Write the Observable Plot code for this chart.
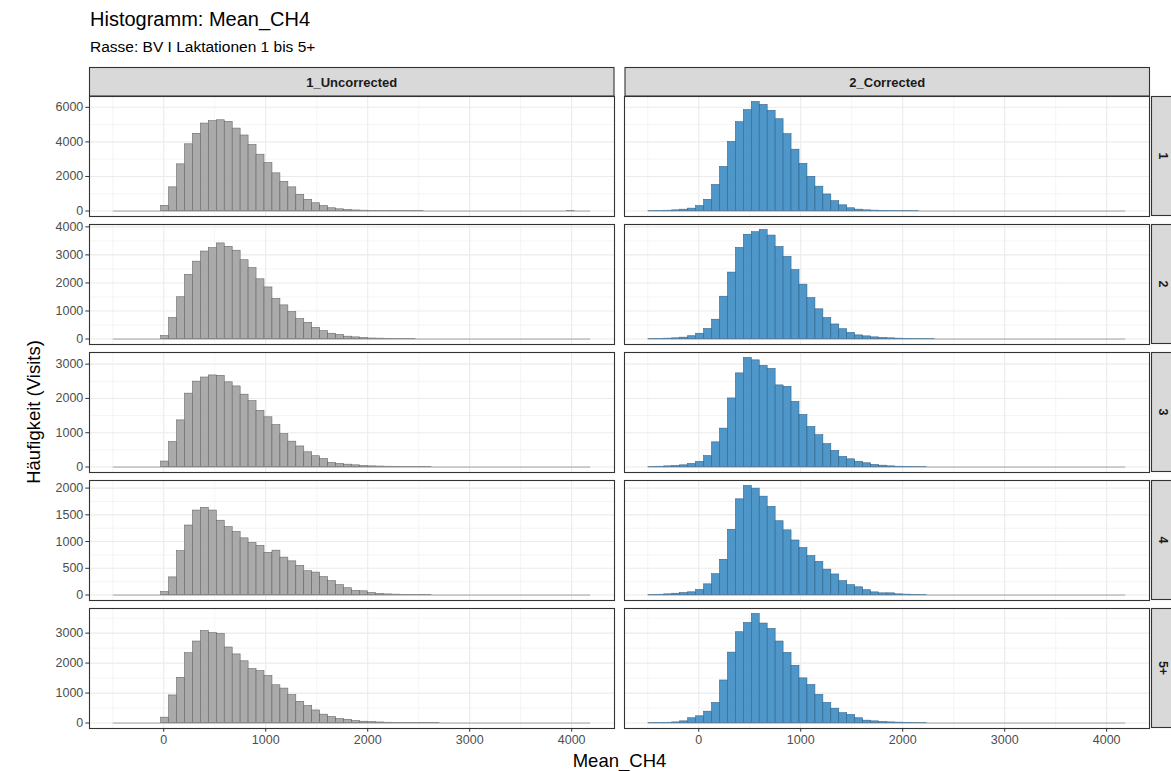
<!DOCTYPE html>
<html><head><meta charset="utf-8">
<script src="https://cdn.jsdelivr.net/npm/d3@7"></script>
<script src="https://cdn.jsdelivr.net/npm/@observablehq/plot@0.6"></script>
<style>
body{margin:0;background:#fff;}
#root{position:relative;width:1171px;height:771px;overflow:hidden;background:#fff;font-family:"Liberation Sans",Arial,sans-serif;}
#root svg{position:absolute;left:0;}
</style></head><body><div id="root"></div>
<script>
// ---- data ----
const binStart = -494, binWidth = 78, binCount = 60;
const columns = ["1_Uncorrected", "2_Corrected"];
const lactations = ["1", "2", "3", "4", "5+"];
// counts per bin (bin k covers binStart + k*binWidth ... + binWidth); missing = 0
const uncorr1 = [0,0,0,0,0,0,300,1370,2700,3860,4470,5060,5200,5250,5160,4770,4370,3820,3260,2770,2180,1690,1370,940,650,450,290,160,100,60,35,22,15,10,6,4,8,2,1,0,0,0,0,0,0,0,0,0,0,0,0,0,0,0,0,0,0,3];
const corr1   = [3,10,20,40,80,140,290,650,1510,2550,4000,5140,5840,6310,6140,5800,5310,4450,3550,2730,1980,1410,960,570,330,160,80,40,25,15,10,6,4,2];
const uncorr2 = [0,0,0,0,0,0,110,750,1490,2290,2760,3120,3240,3410,3290,3150,2810,2530,2130,1840,1430,1200,960,710,580,400,280,190,145,85,60,35,20,15,10,5,3,2];
const corr2   = [5,10,15,25,50,100,190,360,690,1510,2370,3250,3720,3810,3890,3690,3280,2930,2460,1940,1460,1060,750,520,350,220,130,95,60,40,25,15,10,6,4,2];
const uncorr3 = [0,0,0,0,0,0,160,730,1360,2140,2490,2610,2670,2660,2470,2350,2110,1920,1640,1450,1220,960,740,600,430,315,235,120,90,70,50,30,20,15,10,8,5,4,3,2];
const corr3   = [4,10,20,30,50,90,150,320,720,1120,2000,2730,3180,3110,2950,2860,2380,2340,1900,1520,1170,930,670,470,295,225,155,110,60,40,20,10,8,5,3];
const uncorr4 = [0,0,0,0,0,0,57,330,820,1300,1580,1630,1580,1390,1270,1180,1060,975,920,790,830,700,630,545,445,420,335,260,185,127,76,70,38,20,12,8,5,4,3,2];
const corr4   = [3,6,13,25,38,51,95,200,390,660,1220,1790,2040,1990,1840,1650,1380,1210,1020,880,730,620,475,385,260,185,145,90,50,32,32,13,8,5,3];
const uncorr5 = [0,0,0,0,0,0,180,920,1510,2330,2720,3070,3000,2970,2520,2290,2060,1800,1730,1570,1260,1150,930,710,570,420,280,200,135,110,67,45,30,20,12,8,6,5,4,3,2];
const corr5   = [3,6,10,22,56,160,225,380,670,1420,2350,3030,3340,3640,3320,3140,2720,2340,1910,1490,1270,940,670,480,330,270,160,80,56,34,22,15,10,6,4];
const panels = [[uncorr1, corr1], [uncorr2, corr2], [uncorr3, corr3], [uncorr4, corr4], [uncorr5, corr5]];
const xMajor = [0, 1000, 2000, 3000, 4000];
const xMinor = [-500, 500, 1500, 2500, 3500];
const yMajor = [[0,2000,4000,6000],[0,1000,2000,3000,4000],[0,1000,2000,3000],[0,500,1000,1500,2000],[0,1000,2000,3000]];
const yMinor = [[1000,3000,5000],[500,1500,2500,3500],[500,1500,2500],[250,750,1250,1750],[500,1500,2500,3500]];
const titleText = "Histogramm: Mean_CH4";
const subtitleText = "Rasse: BV I Laktationen 1 bis 5+";
const xTitle = "Mean_CH4";
const yTitle = "Häufigkeit (Visits)";

// ---- layout ----
const W = 1171, H = 771;
const left = 89, right = 1150, panelTop0 = 96, panelH = 120, gapY = 8, gapX = 10;
const binEnd = binStart + binCount * binWidth;
const span = binEnd - binStart;
const xDomain = [binStart - 0.05 * span, binEnd + 0.05 * span];
const step = (right - left + gapX) / 2;
const fill = {"1_Uncorrected": "#aaaaaa", "2_Corrected": "#4f96c9"};
const stroke = {"1_Uncorrected": "#606060", "2_Corrected": "#2d5f85"};

const root = document.getElementById("root");

function rowPlot(r) {
  const data = [];
  columns.forEach((col, j) => {
    panels[r][j].forEach((v, k) => {
      if (v > 0) data.push({col, x1: binStart + k * binWidth, x2: binStart + (k + 1) * binWidth, count: v});
    });
  });
  const M = d3.max(data, d => d.count);
  const last = r === lactations.length - 1;
  const mt = 4, mb = last ? 34 : 4;
  const marks = [
    Plot.gridX(xMinor, {stroke: "#ebebeb", strokeOpacity: 1, strokeWidth: 0.55}),
    Plot.gridY(yMinor[r], {stroke: "#ebebeb", strokeOpacity: 1, strokeWidth: 0.55}),
    Plot.gridX(xMajor, {stroke: "#ebebeb", strokeOpacity: 1, strokeWidth: 1.1}),
    Plot.gridY(yMajor[r], {stroke: "#ebebeb", strokeOpacity: 1, strokeWidth: 1.1}),
    Plot.ruleY([0], {x1: binStart, x2: binEnd, stroke: "#9a9a9a", strokeWidth: 0.9}),
    ...columns.map(col => Plot.rect(data.filter(d => d.col === col), {
      fx: "col", x1: "x1", x2: "x2", y1: 0, y2: "count",
      fill: fill[col], stroke: stroke[col], strokeWidth: 0.55
    })),
    Plot.axisY(yMajor[r], {tickSize: 3.7, tickPadding: 2.5, color: "#4d4d4d", stroke: "#333", label: null, tickFormat: d => String(d)}),
    Plot.frame({stroke: "#333", strokeWidth: 1.1})
  ];
  if (last) marks.push(Plot.axisX(xMajor, {tickSize: 3.7, tickPadding: 3, color: "#4d4d4d", stroke: "#333", label: null, tickFormat: d => String(d)}));
  const xOpts = {domain: xDomain};
  if (!last) xOpts.axis = null;
  const svg = Plot.plot({
    width: W, height: mt + panelH + mb,
    marginTop: mt, marginBottom: mb, marginLeft: left, marginRight: W - right,
    style: {fontFamily: "Liberation Sans, Arial, sans-serif", fontSize: "12.5px", background: "transparent", overflow: "visible"},
    fx: {domain: columns, paddingInner: gapX / step, axis: null},
    x: xOpts,
    y: {domain: [-0.05 * M, 1.05 * M]},
    marks
  });
  svg.style.top = (panelTop0 + r * (panelH + gapY) - mt) + "px";
  root.appendChild(svg);
}
lactations.forEach((_, r) => rowPlot(r));

// ---- titles & strips ----
const ov = d3.select(root).append("svg").attr("width", W).attr("height", H).style("top", "0px")
  .style("font-family", "Liberation Sans, Arial, sans-serif");
ov.append("text").attr("x", 90).attr("y", 26).attr("font-size", 20).attr("fill", "#000").text(titleText);
ov.append("text").attr("x", 90).attr("y", 52).attr("font-size", 15.5).attr("fill", "#000").text(subtitleText);
const bw = step - gapX;
columns.forEach((col, j) => {
  const x0 = left + j * step;
  ov.append("rect").attr("x", x0 + 0.5).attr("y", 67.5).attr("width", bw - 1).attr("height", 28.5)
    .attr("fill", "#d9d9d9").attr("stroke", "#333").attr("stroke-width", 1.1);
  ov.append("text").attr("x", x0 + bw / 2).attr("y", 86.5).attr("text-anchor", "middle")
    .attr("font-size", 13).attr("font-weight", "bold").attr("fill", "#1a1a1a").text(col);
});
lactations.forEach((lab, r) => {
  const y0 = panelTop0 + r * (panelH + gapY);
  ov.append("rect").attr("x", 1151.5).attr("y", y0 + 0.5).attr("width", 29).attr("height", panelH - 1)
    .attr("fill", "#d9d9d9").attr("stroke", "#333").attr("stroke-width", 1.1);
  ov.append("text").attr("transform", `translate(${1158.5},${y0 + panelH / 2}) rotate(90)`)
    .attr("text-anchor", "middle").attr("font-size", 12.5).attr("font-weight", "bold").attr("fill", "#1a1a1a").text(lab);
});
ov.append("text").attr("x", (left + right) / 2).attr("y", 767).attr("text-anchor", "middle")
  .attr("font-size", 18.5).attr("fill", "#000").text(xTitle);
ov.append("text").attr("transform", `translate(40,${panelTop0 + (5 * panelH + 4 * gapY) / 2}) rotate(-90)`)
  .attr("text-anchor", "middle").attr("font-size", 18.5).attr("fill", "#000").text(yTitle);
</script></body></html>
